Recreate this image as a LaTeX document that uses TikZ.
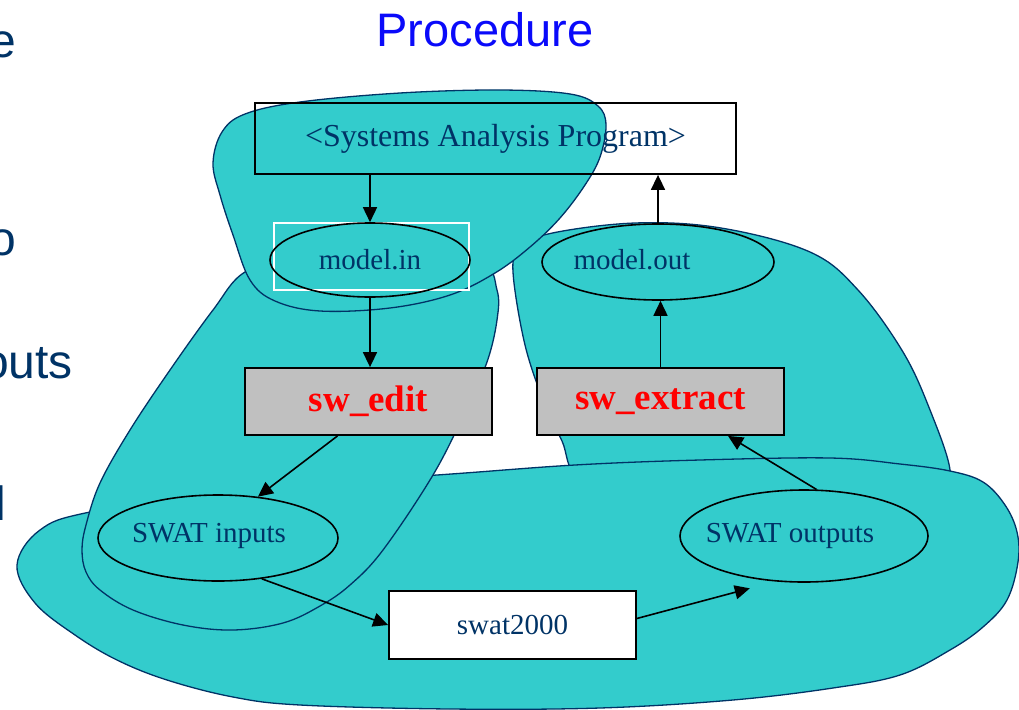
\documentclass[tikz,border=0pt]{standalone}
\usepackage{fontspec}
\setmainfont{Liberation Serif}
\newfontfamily\arialf{Liberation Sans}
\usetikzlibrary{arrows.meta,calc,shapes.geometric}
\definecolor{blobfill}{RGB}{51,204,204}
\definecolor{navy}{RGB}{0,51,102}
\definecolor{boxgray}{RGB}{192,192,192}
\definecolor{titleblue}{RGB}{10,10,250}
\definecolor{redtxt}{RGB}{255,0,0}
\begin{document}
\begin{tikzpicture}[x=1pt,y=-1pt,
  blob/.style={fill=blobfill,draw=navy,line width=1.3pt},
  txt/.style={text=navy,font=\fontsize{29}{34}\selectfont},
  oval/.style={ellipse,draw=black,line width=1.6pt,inner sep=0pt,txt},
  procbox/.style={rectangle,draw=black,line width=1.8pt,fill=boxgray,inner sep=0pt,text=redtxt,font=\bfseries\fontsize{37}{44}\selectfont},
  plainbox/.style={rectangle,draw=black,line width=1.8pt,inner sep=0pt,txt},
  arr/.style={line width=1.6pt,-{Triangle[length=15pt,width=14pt]}},
  side/.style={text=navy,font=\arialf\fontsize{48}{56}\selectfont,inner sep=0pt,anchor=base east}
]
\useasboundingbox (0,0) rectangle (1019,709);

% background blobs (back to front)
\draw[blob] plot[smooth cycle, tension=0.6] coordinates {
  (513,272) (525,345) (545,405) (562,441) (580,480) (650,505) (800,505) (940,495)
  (950,470) (930,410) (903,352) (858,290) (810,252) (721,228) (635,223) (548,234) (520,250)};
\draw[blob] plot[smooth cycle, tension=0.6] coordinates {
  (17,565) (40,530) (90,512) (240,488) (437,475) (575,465) (700,460) (830,458)
  (900,464) (950,471) (983,482) (1005,505) (1017,532) (1018,562) (1007,600)
  (983,627) (950,650) (900,675) (833,688) (733,700) (600,708) (450,709)
  (300,705) (233,697) (167,680) (117,660) (75,635) (35,603)};
\draw[blob] plot[smooth cycle, tension=0.6] coordinates {
  (245,272) (213,310) (170,370) (130,430) (100,483) (86,525) (82,550) (86,572)
  (100,590) (133,610) (183,625) (233,630) (283,623) (320,606) (350,585)
  (383,550) (433,475) (465,412) (487,362) (497,320) (497,290) (480,262)
  (400,252) (300,256)};
\draw[blob] plot[smooth cycle, tension=0.6] coordinates {
  (213,163) (222,132) (245,114) (300,102) (400,93) (500,90) (570,94) (598,106)
  (606,125) (600,157) (585,185) (560,218) (530,247) (495,273) (450,295)
  (390,308) (320,311) (275,301) (250,280) (233,235) (220,195)};

% side text fragments (cut by the left edge)
\node[side] (s1) at (16.5,58) {e};
\node[side] (s2) at (16.5,255) {o};
\node[side] (s3) at (73,378) {outs};
\node[side] (s4) at (6.2,520) {l};

% title
\node[text=titleblue,font=\arialf\fontsize{47}{56}\selectfont,anchor=base,inner sep=0pt] (title) at (485,47) {Procedure};

% nodes
\node[plainbox,minimum width=481pt,minimum height=71pt,font=\fontsize{32}{38}\selectfont] (sys) at (495.5,138.5) {<Systems Analysis Program>};
\node[draw=white,line width=1.5pt,minimum width=195pt,minimum height=67pt,inner sep=0pt] (modinbox) at (371.5,256.5) {};
\node[oval,minimum width=200pt,minimum height=74pt] (modin) at (370,260) {model.in};
\node[oval,minimum width=232pt,minimum height=76pt,
      label={[txt,xshift=-26pt,yshift=2pt]center:model.out}] (modout) at (658,262) {};
\node[procbox,minimum width=247pt,minimum height=67pt] (swedit) at (368.5,401.5) {sw\_edit};
\node[procbox,minimum width=247pt,minimum height=67pt] (swext) at (660.5,401.5) {sw\_extract};
\node[oval,minimum width=240pt,minimum height=86pt,
      label={[txt,xshift=-9pt,yshift=2pt]center:SWAT inputs}] (swin) at (218,538) {};
\node[oval,minimum width=248pt,minimum height=92pt,
      label={[txt,xshift=-14pt]center:SWAT outputs}] (swout) at (804,536) {};
\node[plainbox,fill=white,minimum width=247pt,minimum height=68pt] (swat) at (512.5,625) {swat2000};

% connectors
\draw[arr] (modin.north |- sys.south) -- (modin.north);
\draw[arr] (modin.south) -- (modin.south |- swedit.north);
\draw[arr] (swedit.-132) -- (swin.46);
\draw[arr] (swin.-43) -- (swat.west);
\draw[arr] (swat.3) -- ($(swout.center)!1.2!(swout.224)$);
\draw[arr] (swout.75) -- (swext.-27);
\draw[arr] (swext.north) -- (swext.north |- modout.south);
\draw[arr] (modout.north) -- (modout.north |- sys.south);
\end{tikzpicture}
\end{document}
